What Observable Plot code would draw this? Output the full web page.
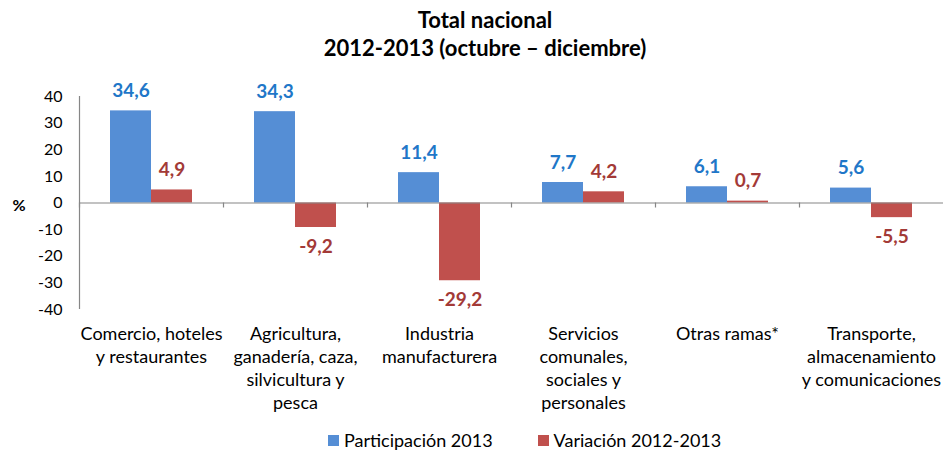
<!DOCTYPE html>
<html><head><meta charset="utf-8">
<script src="https://cdn.jsdelivr.net/npm/d3@7"></script>
<script src="https://cdn.jsdelivr.net/npm/@observablehq/plot@0.6"></script>
<style>
body{margin:0;background:#fff;font-family:Lato,sans-serif;color:#000;}
#wrap{position:relative;width:943px;height:451px;overflow:hidden;background:#fff;}
.t{position:absolute;left:0;width:970px;text-align:center;font-weight:bold;font-size:22px;line-height:28px;}
#chart{position:absolute;left:0;top:70px;}
#legend{position:absolute;top:429px;left:328px;font-size:18px;display:flex;align-items:center;white-space:nowrap;}
#legend .sw{display:inline-block;width:11px;height:11px;margin-right:5px;}
#legend .it{display:flex;align-items:center;margin-right:45px;}
</style>
</head><body>
<div id="wrap">
  <div class="t" style="top:6px">Total nacional</div>
  <div class="t" style="top:34px">2012-2013 (octubre – diciembre)</div>
  <div id="chart"></div>
  <div id="legend"></div>
</div>
<script>
const categories = [
  "Comercio, hoteles\ny restaurantes",
  "Agricultura,\nganadería, caza,\nsilvicultura y\npesca",
  "Industria\nmanufacturera",
  "Servicios\ncomunales,\nsociales y\npersonales",
  "Otras ramas*",
  "Transporte,\nalmacenamiento\ny comunicaciones"
];
const participacion = [34.6, 34.3, 11.4, 7.7, 6.1, 5.6];
const variacion = [4.9, -9.2, -29.2, 4.2, 0.7, -5.5];
const seriesNames = ["Participación 2013", "Variación 2012-2013"];
const barColors = ["#558ED5", "#C0504D"];
const labelColors = ["#1F77C8", "#A33A37"];
const yTicks = [-40, -30, -20, -10, 0, 10, 20, 30, 40];

const fmt = v => String(v).replace(".", ",");
const partRows = categories.map((c, i) => ({cat: c, value: participacion[i]}));
const varRows = categories.map((c, i) => ({cat: c, value: variacion[i]}));

function labels(rows, dx, color) {
  return [
    Plot.text(rows.filter(d => d.value >= 0), {x: "cat", y: "value", text: d => fmt(d.value), dx, dy: -20, fill: color, fontWeight: "bold", fontSize: 19}),
    Plot.text(rows.filter(d => d.value < 0), {x: "cat", y: "value", text: d => fmt(d.value), dx, dy: 19, fill: color, fontWeight: "bold", fontSize: 19})
  ];
}

const chart = Plot.plot({
  width: 943,
  height: 350,
  marginLeft: 79,
  marginRight: 0,
  marginTop: 26,
  marginBottom: 111,
  style: {fontFamily: "Lato, sans-serif", fontSize: "16px", color: "#000", background: "#fff"},
  x: {domain: categories, paddingInner: 0, paddingOuter: 0, axis: null},
  y: {domain: [yTicks[0], yTicks[yTicks.length - 1]], axis: null},
  marks: [
    Plot.axisY({ticks: yTicks, tickSize: 0, tickPadding: 17, tickFormat: d => String(d), fontSize: 16, label: null}),
    Plot.axisX({tickSize: 0, tickPadding: 14, fontSize: 18, lineHeight: 1.28, label: null}),
    Plot.barY(partRows, {x: "cat", y: "value", fill: barColors[0], insetLeft: 31, insetRight: 72}),
    Plot.barY(varRows, {x: "cat", y: "value", fill: barColors[1], insetLeft: 72, insetRight: 31}),
    Plot.ruleY([0], {stroke: "#868686", strokeWidth: 1.2}),
    Plot.ruleX([categories[0]], {x: d => d, dx: -72, y1: yTicks[0], y2: yTicks[yTicks.length - 1], stroke: "#868686", strokeWidth: 1.2}),
    Plot.ruleX(categories, {x: d => d, dx: -72, y1: 0, y2: 0, insetBottom: -5, stroke: "#868686", strokeWidth: 1.2}),
    ...labels(partRows, -20.5, labelColors[0]),
    ...labels(varRows, 20.5, labelColors[1]),
    Plot.text(["%"], {frameAnchor: "left", text: d => d, dx: -67, dy: 3, fontWeight: "bold", fontSize: 16})
  ]
});
document.getElementById("chart").appendChild(chart);

const legend = document.getElementById("legend");
seriesNames.forEach((name, i) => {
  const it = document.createElement("span");
  it.className = "it";
  const sw = document.createElement("span");
  sw.className = "sw";
  sw.style.background = barColors[i];
  it.appendChild(sw);
  it.appendChild(document.createTextNode(name));
  legend.appendChild(it);
});
</script>
</body></html>
